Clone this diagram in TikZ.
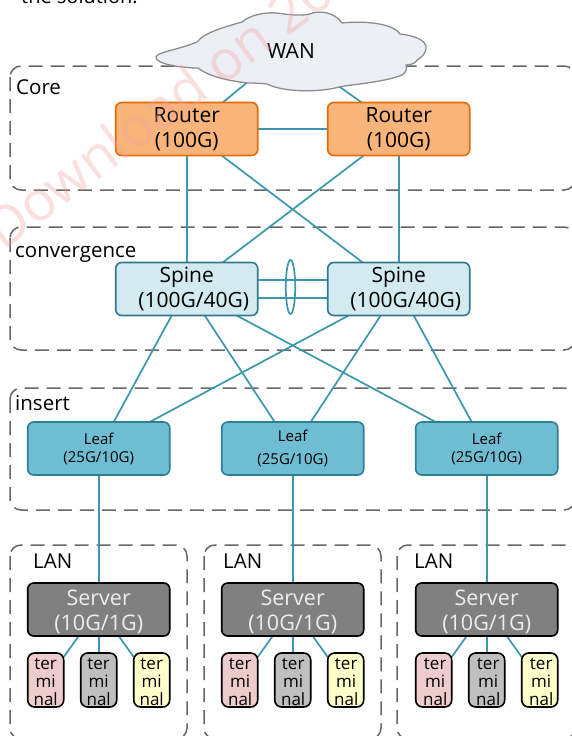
\documentclass[tikz,border=0pt]{standalone}
\usepackage{fontspec}
\setmainfont{Open Sans}
\usetikzlibrary{backgrounds,calc}
\definecolor{linkc}{HTML}{3B97AE}
\definecolor{dashc}{HTML}{666666}
\definecolor{wm}{HTML}{F4A0A0}
\definecolor{orangef}{HTML}{F9B47A}
\definecolor{oranged}{HTML}{E36C0A}
\definecolor{spinef}{HTML}{D2EAF0}
\definecolor{spined}{HTML}{31798F}
\definecolor{leaff}{HTML}{6FBDD3}
\definecolor{leafd}{HTML}{2F7F93}
\definecolor{serverf}{HTML}{808080}
\definecolor{term1}{HTML}{EFCCCC}
\definecolor{term2}{HTML}{BFBFBF}
\definecolor{term3}{HTML}{FFFFCC}
\definecolor{cloudf}{HTML}{ECEFF5}
\definecolor{cloudd}{HTML}{8C8C8C}
\tikzset{
  zone/.style={draw=dashc,line width=1.5pt,dash pattern=on 14pt off 8pt,rounded corners=11pt},
  link/.style={draw=linkc,line width=1.7pt},
  box/.style={draw,line width=1.6pt,outer sep=0pt,xshift=.7pt,rounded corners=6pt,minimum width=142pt,minimum height=53pt,inner sep=0pt,align=center,anchor=north west},
  routerbox/.style={box,fill=orangef,draw=oranged,font=\fontsize{21}{24.5}\selectfont},
  spinebox/.style={box,fill=spinef,draw=spined,font=\fontsize{21}{24.5}\selectfont},
  leafbox/.style={box,fill=leaff,draw=leafd,font=\fontsize{15}{18}\selectfont},
  serverbox/.style={box,fill=serverf,draw=black,text=white!93!black,font=\fontsize{21.5}{24.5}\selectfont},
  termbox/.style={box,draw=black,rounded corners=7pt,minimum width=36pt,minimum height=54pt,font=\fontsize{17}{18}\selectfont},
  zonelabel/.style={anchor=base west,inner sep=0pt,font=\fontsize{20.5}{24}\selectfont},
}
\begin{document}
\begin{tikzpicture}[x=1pt,y=-1pt]
\useasboundingbox (0,0) rectangle (571,736);
\clip (0,0) rectangle (571,736);
\node[routerbox] (R1) at (115,102.5) {Router\\(100G)};
\node[routerbox] (R2) at (327,102.5) {Router\\(100G)};
\node[spinebox] (S1) at (115,262.5) {Spine\\\hspace*{14pt}(100G/40G)};
\node[spinebox] (S2) at (327,262.5) {Spine\\\hspace*{14pt}(100G/40G)};
\node[leafbox] (L1) at (27,422) {Leaf\\(25G/10G)};
\node[leafbox] (L2) at (221,422) {Leaf\\[5pt](25G/10G)};
\node[leafbox] (L3) at (415,422) {Leaf\\(25G/10G)};
\foreach \n/\x/\s in {1/27/0,2/221/1,3/415/3}{
  \node[serverbox] (V\n) at (\x,583) {\rule{0pt}{20pt}Server\\(10G/1G)};
  \node[termbox,fill=term1] (Ta\n) at (\x,653) {\rule{0pt}{16pt}\hspace*{\s pt}ter\\\hspace*{\s pt}mi\\\hspace*{\s pt}nal};
  \node[termbox,fill=term2] (Tb\n) at (\x+53,653) {\rule{0pt}{16pt}\hspace*{\s pt}ter\\\hspace*{\s pt}mi\\\hspace*{\s pt}nal};
  \node[termbox,fill=term3] (Tc\n) at (\x+106,653) {\rule{0pt}{16pt}\hspace*{\s pt}ter\\\hspace*{\s pt}mi\\\hspace*{\s pt}nal};
}
\node[zonelabel] (lc) at (16,94) {Core};
\node[zonelabel] (lv) at (15,257) {convergence};
\node[zonelabel] (li) at (15,410) {insert};
\node[zonelabel] (la1) at (33,568) {LAN};
\node[zonelabel] (la2) at (223,568) {LAN};
\node[zonelabel] (la3) at (414,568) {LAN};
\node[anchor=base west,inner sep=0pt,font=\fontsize{20}{24}\selectfont] (top) at (21,3) {the solution.};
\begin{pgfonlayer}{background}
\draw[zone] (10,66) rectangle (575,190);
\draw[zone] (10,227) rectangle (575,350);
\draw[zone] (10,388) rectangle (575,510);
\draw[zone] (10,545) rectangle (187,739);
\draw[zone] (204,545) rectangle (381,739);
\draw[zone] (397,545) rectangle (575,739);
\coordinate (w1) at (255,76);
\coordinate (w2) at (330,80);
\draw[link] ([xshift=36pt]R1.north) -- (w1);
\draw[link] ([xshift=-37pt]R2.north) -- (w2);
\draw[link] (R1) -- (R2);
\draw[link] (R1.south) -- (S1.north);
\draw[link] (R2.south) -- (S2.north);
\draw[link] ([xshift=35pt]R1.south) -- ([xshift=-36pt]S2.north);
\draw[link] ([xshift=-35pt]R2.south) -- ([xshift=36pt]S1.north);
\draw[link] ([yshift=-9pt]S1.east) -- ([yshift=-9pt]S2.west);
\draw[link] ([yshift=9pt]S1.east) -- ([yshift=9pt]S2.west);
\draw[link] ([xshift=-15pt]S1.south) -- ([xshift=15pt]L1.north);
\draw[link] ([xshift=18pt]S1.south) -- ([xshift=-18pt]L2.north);
\draw[link] ([xshift=50pt]S1.south) -- ([xshift=-51pt]L3.north);
\draw[link] ([xshift=-50pt]S2.south) -- ([xshift=51pt]L1.north);
\draw[link] ([xshift=-18pt]S2.south) -- ([xshift=18pt]L2.north);
\draw[link] ([xshift=15pt]S2.south) -- ([xshift=-15pt]L3.north);
\foreach \n in {1,2,3}{
  \draw[link] (L\n.south) -- (V\n.north);
  \draw[link] ([xshift=-20pt]V\n.south) -- ([yshift=-4pt]Ta\n.north east);
  \draw[link] (V\n.south) -- (Tb\n.north);
  \draw[link] ([xshift=20pt]V\n.south) -- ([yshift=-4pt]Tc\n.north west);
}
\end{pgfonlayer}
\draw[link] (290.5,287) ellipse [x radius=4.7pt,y radius=27pt];
\draw[fill=cloudf,draw=cloudd,line width=1.3pt]
 (156,57) .. controls (157,52) and (178,50) .. (197,42)
 .. controls (205,32) and (225,27) .. (242,22)
 .. controls (250,15) and (265,12) .. (277,13)
 .. controls (290,15) and (300,16) .. (310,14)
 .. controls (318,10) and (335,12) .. (342,23)
 .. controls (360,21) and (392,22) .. (400,34)
 .. controls (412,35) and (428,40) .. (426,49)
 .. controls (425,54) and (422,57) .. (417,60)
 .. controls (416,63) and (411,65) .. (406,65)
 .. controls (408,70) and (404,74) .. (402,75)
 .. controls (385,82) and (355,84) .. (339,87)
 .. controls (322,92) and (285,93) .. (267,84)
 .. controls (258,83) and (252,83) .. (248,83)
 .. controls (228,81) and (208,76) .. (198,68)
 .. controls (182,68) and (155,64) .. (156,57) -- cycle;
\node[font=\fontsize{21}{24}\selectfont,anchor=base] (wan) at (291,58) {WAN};
\node[rotate=37,anchor=base west,inner sep=0pt,text=wm,opacity=.35,font=\fontsize{55}{60}\selectfont] (mark) at (3,252) {Download on 20};
\end{tikzpicture}
\end{document}
